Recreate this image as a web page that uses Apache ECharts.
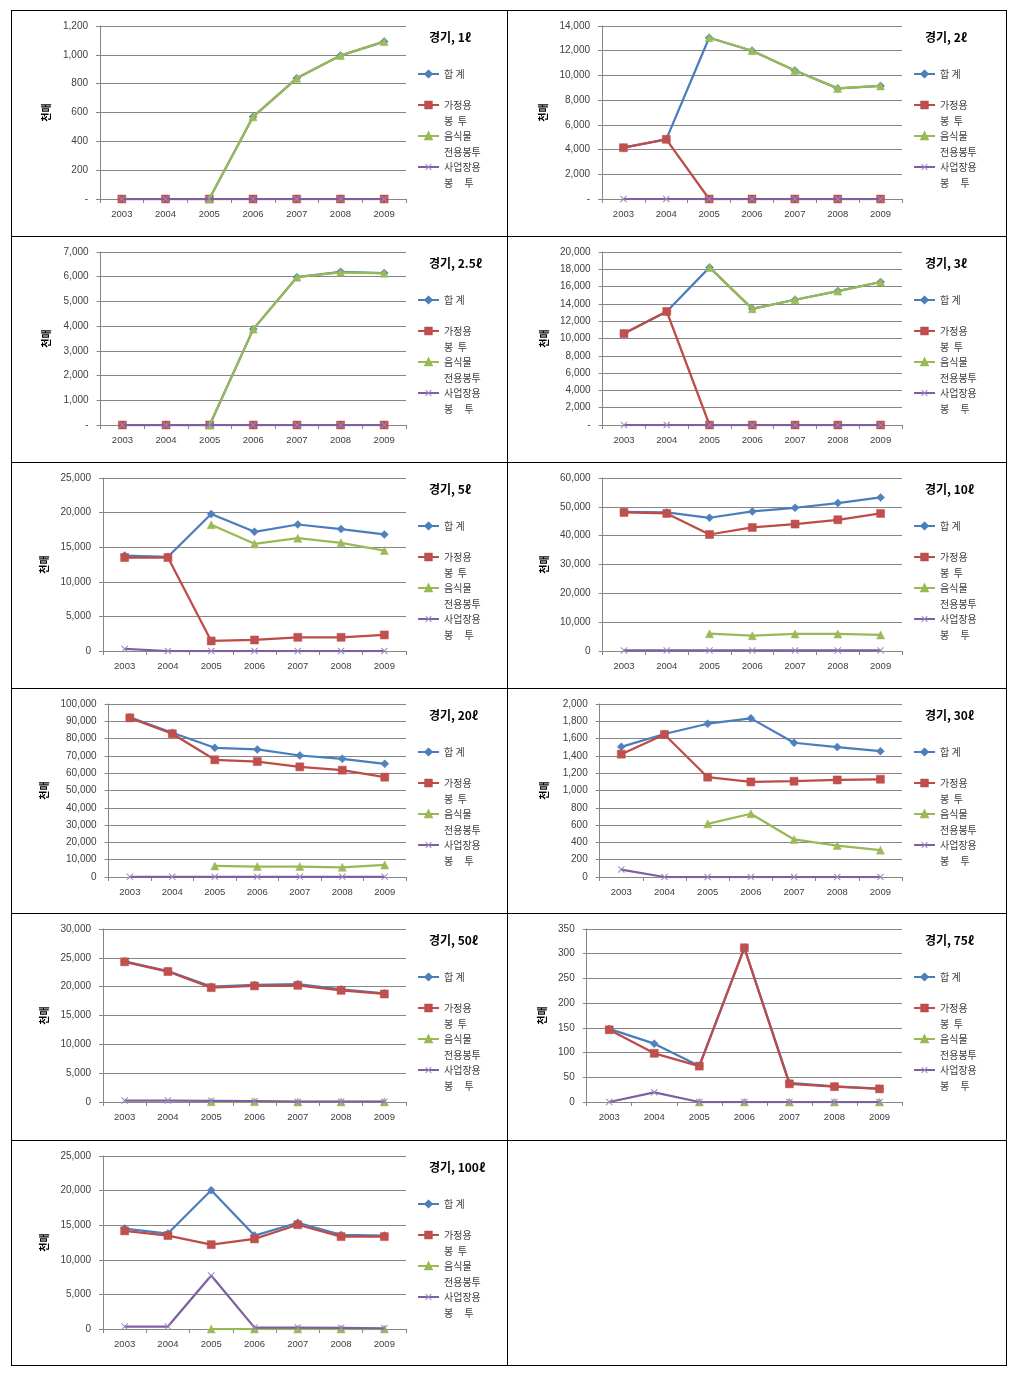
<!DOCTYPE html>
<html><head><meta charset="utf-8">
<script src="https://cdn.jsdelivr.net/npm/echarts@6/dist/echarts.min.js"></script>
<style>
html,body{margin:0;padding:0;background:#fff;}
#page{position:relative;width:1018px;height:1375px;overflow:hidden;}
.cell{position:absolute;}
.hl{position:absolute;height:1px;background:#000;z-index:5;}
.vl{position:absolute;width:1px;background:#000;z-index:5;}
</style></head><body><div id="page"></div>
<script>
// ---------- data ----------
const years = ['2003','2004','2005','2006','2007','2008','2009'];
const seriesNames = ['합 계','가정용 봉 투','음식물 전용봉투','사업장용 봉 투'];
const legendLabels = [' \n합 계\n ',' \n가정용\n봉  투',' \n음식물\n전용봉투',' \n사업장용\n봉     투'];
const chartTitles = ['경기, 1ℓ','경기, 2ℓ','경기, 2.5ℓ','경기, 3ℓ','경기, 5ℓ','경기, 10ℓ','경기, 20ℓ','경기, 30ℓ','경기, 50ℓ','경기, 75ℓ','경기, 100ℓ'];
const yAxisName = '천매';
const yMax  = [1200,14000,7000,20000,25000,60000,100000,2000,30000,350,25000];
const yStep = [200,2000,1000,2000,5000,10000,10000,200,5000,50,5000];
const zeroAsDash = [true,true,true,true,false,false,false,false,false,false,false];

// 경기, 1ℓ
const total_1 = [0,0,0,570,837,995,1092];
const home_1  = [0,0,0,0,0,0,0];
const food_1  = [null,null,0,570,837,995,1092];
const biz_1   = [0,0,0,0,0,0,0];
// 경기, 2ℓ
const total_2 = [4150,4830,13050,12000,10400,8950,9150];
const home_2  = [4150,4830,0,0,0,0,0];
const food_2  = [null,null,13050,12000,10400,8950,9150];
const biz_2   = [0,0,0,0,0,0,0];
// 경기, 2.5ℓ
const total_25 = [0,0,0,3880,5980,6200,6150];
const home_25  = [0,0,0,0,0,0,0];
const food_25  = [null,null,0,3880,5980,6180,6140];
const biz_25   = [0,0,0,0,0,0,0];
// 경기, 3ℓ
const total_3 = [10570,13120,18220,13430,14480,15480,16530];
const home_3  = [10570,13120,0,0,0,0,0];
const food_3  = [null,null,18220,13430,14480,15480,16530];
const biz_3   = [0,0,0,0,0,0,0];
// 경기, 5ℓ
const total_5 = [13800,13610,19790,17230,18280,17620,16840];
const home_5  = [13510,13510,1450,1590,1980,1980,2320];
const food_5  = [null,null,18240,15490,16310,15630,14520];
const biz_5   = [290,0,0,0,0,0,0];
// 경기, 10ℓ
const total_10 = [48290,48050,46210,48400,49680,51320,53260];
const home_10  = [48050,47700,40400,42840,44020,45510,47700];
const food_10  = [null,null,6010,5320,5910,5910,5560];
const biz_10   = [200,200,200,200,200,200,200];
// 경기, 20ℓ
const total_20 = [92280,83400,74700,73710,70230,68310,65410];
const home_20  = [92000,82820,67730,66740,63670,61750,57690];
const food_20  = [null,null,6380,6040,6040,5630,6970];
const biz_20   = [100,100,100,100,100,100,100];
// 경기, 30ℓ
const total_30 = [1505,1653,1772,1834,1552,1502,1455];
const home_30  = [1420,1648,1154,1099,1107,1122,1130];
const food_30  = [null,null,615,731,434,364,310];
const biz_30   = [86,0,0,0,0,0,0];
// 경기, 50ℓ
const total_50 = [24400,22700,20000,20300,20450,19550,18850];
const home_50  = [24310,22620,19830,20130,20230,19360,18730];
const food_50  = [null,null,50,50,20,20,20];
const biz_50   = [250,250,200,150,50,50,50];
// 경기, 75ℓ
const total_75 = [148,118,73,312,38.7,31.5,27];
const home_75  = [146,98.5,72.6,312,36.7,31,26.5];
const food_75  = [null,null,0,0,0,0,0];
const biz_75   = [0,19.6,0,0,0,0,0];
// 경기, 100ℓ
const total_100 = [14520,13790,20050,13500,15350,13600,13500];
const home_100  = [14180,13500,12190,13020,15060,13350,13350];
const food_100  = [null,null,0,0,0,0,0];
const biz_100   = [350,350,7720,200,200,150,100];

const chartData = [
  [total_1,home_1,food_1,biz_1],
  [total_2,home_2,food_2,biz_2],
  [total_25,home_25,food_25,biz_25],
  [total_3,home_3,food_3,biz_3],
  [total_5,home_5,food_5,biz_5],
  [total_10,home_10,food_10,biz_10],
  [total_20,home_20,food_20,biz_20],
  [total_30,home_30,food_30,biz_30],
  [total_50,home_50,food_50,biz_50],
  [total_75,home_75,food_75,biz_75],
  [total_100,home_100,food_100,biz_100]
];

// ---------- layout / style ----------
const KR = "'Noto Sans CJK KR','Noto Sans',sans-serif";
const NUM = "'Liberation Sans','Noto Sans CJK KR',sans-serif";
const colX = [11, 507, 1006];
const rowY = [10, 236, 462, 688, 913, 1140, 1365];
const gridLeft = [89,95,89.6,95.6,92,95.6,97.6,92.7,92,79.7,92];
const nameX = [34,36];
const lineColors = ['#4A7EBB','#BE4B48','#98B954','#7D60A0'];
const markColors = ['#4F81BD','#C0504D','#9BBB59','#9A86BC'];
const symbols = ['diamond','rect','triangle','path://M0,1 L1,0 L5,4 L9,0 L10,1 L6,5 L10,9 L9,10 L5,6 L1,10 L0,9 L4,5 Z'];
const symSizes = [8,8,8,7];

const page = document.getElementById('page');
// table borders
rowY.forEach(y => { const d = document.createElement('div'); d.className='hl'; d.style.left=colX[0]+'px'; d.style.top=y+'px'; d.style.width=(colX[2]-colX[0]+1)+'px'; page.appendChild(d); });
colX.forEach(x => { const d = document.createElement('div'); d.className='vl'; d.style.left=x+'px'; d.style.top=rowY[0]+'px'; d.style.height=(rowY[6]-rowY[0]+1)+'px'; page.appendChild(d); });

function fmt(v, i) {
  if (v === 0 && zeroAsDash[i]) return '-';
  return v.toLocaleString('en-US');
}

chartData.forEach((series, i) => {
  const col = i % 2, row = Math.floor(i / 2);
  const w = colX[col+1] - colX[col];
  const h = rowY[row+1] - rowY[row];
  const div = document.createElement('div');
  div.className = 'cell';
  div.style.left = colX[col]+'px'; div.style.top = rowY[row]+'px';
  div.style.width = w+'px'; div.style.height = h+'px';
  page.appendChild(div);
  const chart = echarts.init(div, null, {renderer:'canvas', width:w, height:h});
  chart.setOption({
    animation:false,
    backgroundColor:'transparent',
    title:{text:chartTitles[i], left:418, top:21, padding:0,
      textStyle:{fontSize:12, fontWeight:'bold', color:'#000', fontFamily:KR}},
    legend:{orient:'vertical', left:406, top:40, itemWidth:21, itemHeight:8, itemGap:-17,
      padding:0, selectedMode:false, data:seriesNames,
      formatter: n => legendLabels[seriesNames.indexOf(n)],
      textStyle:{fontSize:10, color:'#404040', lineHeight:16, fontFamily:KR}},
    grid:{left:gridLeft[i], top:16, width:395-gridLeft[i], height:173, outerBoundsMode:'none'},
    xAxis:{type:'category', data:years, boundaryGap:true,
      axisLine:{show:true, lineStyle:{color:'#868686', width:1}},
      axisTick:{show:true, length:4, lineStyle:{color:'#868686'}},
      axisLabel:{fontSize:9.5, color:'#404040', margin:11, fontFamily:NUM},
      splitLine:{show:false}},
    yAxis:{type:'value', min:0, max:yMax[i], interval:yStep[i],
      name:yAxisName, nameLocation:'middle', nameRotate:90, nameGap:gridLeft[i]-nameX[col]-6,
      nameTextStyle:{fontWeight:'bold', fontSize:10, color:'#000', fontFamily:KR},
      axisLine:{show:true, lineStyle:{color:'#868686', width:1}},
      axisTick:{show:true, length:4, lineStyle:{color:'#868686'}},
      splitLine:{show:true, lineStyle:{color:'#868686', width:1}},
      axisLabel:{fontSize:10, color:'#404040', margin:12, fontFamily:NUM, formatter: v => fmt(v, i)}},
    series: series.map((d, k) => ({
      name: seriesNames[k], type:'line', data:d, connectNulls:false,
      symbol: symbols[k], symbolSize: symSizes[k], showSymbol:true,
      lineStyle:{color:lineColors[k], width:2.25},
      itemStyle:{color:markColors[k], borderColor:lineColors[k], borderWidth: k===3 ? 0 : 0.5},
      emphasis:{disabled:true}, z: 2 + k
    }))
  });
});
</script></body></html>
